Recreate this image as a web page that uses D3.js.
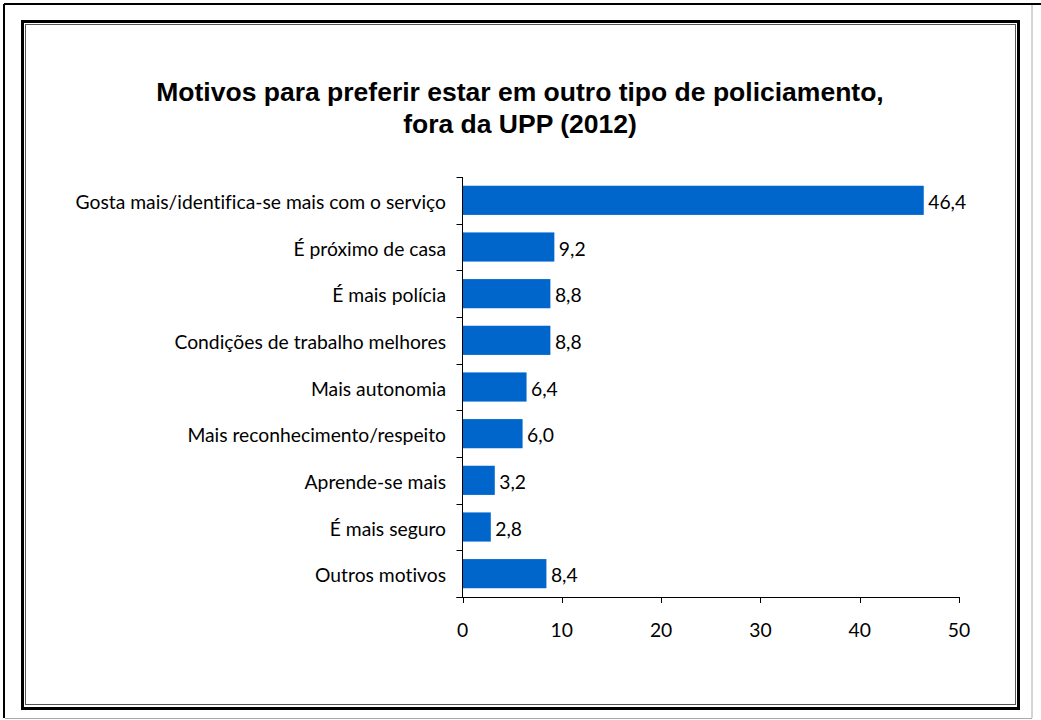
<!DOCTYPE html>
<meta charset="utf-8">
<style>
body { margin: 0; background: #fff; }
.lbl text { font-family: Lato, "Open Sans", sans-serif; font-size: 19.3px; fill: #000; font-variant-ligatures: none; }
.title { font-family: "Liberation Sans", Arial, sans-serif; font-weight: bold; font-size: 26.5px; fill: #000; }
</style>
<body>
<div id="chart"></div>
<script src="https://d3js.org/d3.v7.min.js"></script>
<script>
// Motivos para preferir outro policiamento (2012)
var categories = [
  "Gosta mais/identifica-se mais com o serviço",
  "É próximo de casa",
  "É mais polícia",
  "Condições de trabalho melhores",
  "Mais autonomia",
  "Mais reconhecimento/respeito",
  "Aprende-se mais",
  "É mais seguro",
  "Outros motivos"
];
var values = [46.4, 9.2, 8.8, 8.8, 6.4, 6.0, 3.2, 2.8, 8.4];
var xTicks = [0, 10, 20, 30, 40, 50];
var titleLines = ["Motivos para preferir estar em outro tipo de policiamento,", "fora da UPP (2012)"];

var W = 1041, H = 720;
var plot = {left: 462.5, right: 959, top: 177, bottom: 597};

var svg = d3.select("#chart").append("svg")
    .attr("width", W)
    .attr("height", H);

// frames
svg.append("line").attr("x1", 4).attr("y1", 4).attr("x2", 1041).attr("y2", 4)
    .attr("stroke", "#000").attr("stroke-width", 2);
svg.append("line").attr("x1", 4).attr("y1", 4).attr("x2", 4).attr("y2", 718)
    .attr("stroke", "#000").attr("stroke-width", 2);
svg.append("line").attr("x1", 1032).attr("y1", 5).attr("x2", 1032).attr("y2", 718)
    .attr("stroke", "#aaa").attr("stroke-width", 1);
svg.append("line").attr("x1", 5).attr("y1", 718.5).attr("x2", 1032).attr("y2", 718.5)
    .attr("stroke", "#aaa").attr("stroke-width", 1);

svg.append("rect").attr("x", 22.5).attr("y", 21.5).attr("width", 996).attr("height", 687)
    .attr("fill", "none").attr("stroke", "#000").attr("stroke-width", 3);
svg.append("rect").attr("x", 25.5).attr("y", 24.5).attr("width", 990).attr("height", 680)
    .attr("fill", "none").attr("stroke", "#555").attr("stroke-width", 1);

// title
svg.append("text").attr("class", "title")
    .attr("x", 520).attr("y", 101)
    .attr("text-anchor", "middle")
    .text(titleLines[0]);
svg.append("text").attr("class", "title")
    .attr("x", 520).attr("y", 133)
    .attr("text-anchor", "middle")
    .text(titleLines[1]);

var x = d3.scaleLinear().domain([0, 50]).range([plot.left, plot.right]);
var y = d3.scaleBand().domain(categories).range([plot.top, plot.bottom]).paddingInner(0.375).paddingOuter(0.1875);
var yTicks = d3.scaleBand().domain(categories).range([plot.top, plot.bottom]);

// bars
svg.append("g").selectAll("rect")
    .data(values)
    .enter().append("rect")
    .attr("x", x(0) + 0.5)
    .attr("y", function (d, i) { return y(categories[i]); })
    .attr("width", function (d) { return x(d) - x(0); })
    .attr("height", y.bandwidth())
    .attr("fill", "#0066cc");

// y axis
var yg = svg.append("g").attr("class", "lbl");
yg.append("line")
    .attr("x1", plot.left).attr("x2", plot.left)
    .attr("y1", plot.top).attr("y2", plot.bottom)
    .attr("stroke", "#000");
yg.selectAll("line.tk")
    .data(categories.concat(["end"]))
    .enter().append("line")
    .attr("class", "tk")
    .attr("x1", plot.left - 6).attr("x2", plot.left)
    .attr("y1", function (d, i) { return Math.round(plot.top + i * yTicks.step()) + 0.5; })
    .attr("y2", function (d, i) { return Math.round(plot.top + i * yTicks.step()) + 0.5; })
    .attr("stroke", "#000");
yg.selectAll("text.cat")
    .data(categories)
    .enter().append("text")
    .attr("class", "cat")
    .attr("x", 446)
    .attr("y", function (d) { return yTicks(d) + yTicks.bandwidth() / 2 + 2; })
    .attr("dy", "0.35em")
    .attr("text-anchor", "end")
    .text(function (d) { return d; });

// value labels
yg.selectAll("text.val")
    .data(values)
    .enter().append("text")
    .attr("class", "val")
    .attr("x", function (d) { return x(d) + 5; })
    .attr("y", function (d, i) { return yTicks(categories[i]) + yTicks.bandwidth() / 2 + 2; })
    .attr("dy", "0.35em")
    .text(function (d) { return d3.format(".1f")(d).replace(".", ","); });

// x axis
var xg = svg.append("g").attr("class", "lbl");
xg.append("line")
    .attr("x1", plot.left - 6).attr("x2", plot.right)
    .attr("y1", plot.bottom + 0.5).attr("y2", plot.bottom + 0.5)
    .attr("stroke", "#000");
xg.selectAll("line.tk")
    .data(xTicks)
    .enter().append("line")
    .attr("class", "tk")
    .attr("x1", function (d) { return Math.round(x(d)) + 0.5; })
    .attr("x2", function (d) { return Math.round(x(d)) + 0.5; })
    .attr("y1", plot.bottom).attr("y2", plot.bottom + 6)
    .attr("stroke", "#000");
xg.selectAll("text")
    .data(xTicks)
    .enter().append("text")
    .attr("x", function (d) { return x(d); })
    .attr("y", 630)
    .attr("dy", "0.35em")
    .attr("text-anchor", "middle")
    .text(function (d) { return d; });
</script>
